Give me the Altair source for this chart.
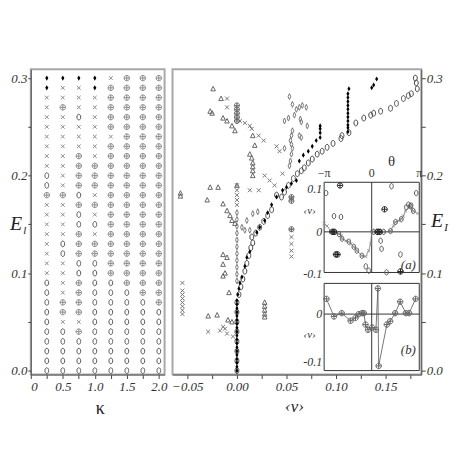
import math
import altair as alt
import pandas as pd

PI = math.pi

# ---------------- left panel: symbol grid ----------------
kappa = [0.25, 0.5, 0.75, 1.0, 1.25, 1.5, 1.75, 2.0]
grid_E = [0.30, 0.29, 0.28, 0.27, 0.26, 0.25, 0.24, 0.23, 0.22, 0.21, 0.20,
          0.19, 0.18, 0.17, 0.16, 0.15, 0.14, 0.13, 0.12, 0.11, 0.10,
          0.09, 0.08, 0.07, 0.06, 0.05, 0.04, 0.03, 0.02, 0.01, 0.00]
grid_rows = ["ddddx+++", "dxxd++++", "xxxx++++", "x+xx++++", "xxox++++",
             "xxxx++++", "xxxxx+++", "xxxx++++", "xx+x++++", "xx++++++",
             "ox++++++", "ox++++++", "++ox++++", "xx++++++", "xxox++++",
             "xxoo++++", "xx+x++++", "xo++++++", "xo++++++", "xxoo++++",
             "xxoo++++", "ox+oo+++", "ox+ooo++", "o++oooo+", "o++ooooo",
             "oxxooooo", "oo+ooooo", "oooooooo", "oooooooo", "oooooooo",
             "oooooooo"]

kappa_ticks = [0, 0.25, 0.5, 0.75, 1.0, 1.25, 1.5, 1.75, 2.0]
E_ticks = [0.0, 0.05, 0.1, 0.15, 0.2, 0.25, 0.3]
nu_ticks = [-0.05, -0.025, 0.0, 0.025, 0.05, 0.075, 0.1, 0.125, 0.15, 0.175]

# ---------------- main panel series (nu, E) ----------------
circ_nu = [0.0, 0.0, 0.0, 0.0, 0.0, 0.0, 0.0, 0.0, 0.002, 0.004, 0.006, 0.008,
           0.010, 0.012, 0.014, 0.016, 0.015, 0.019, 0.023, 0.027, 0.031, 0.035,
           0.040, 0.045, 0.048, 0.052, 0.057, 0.061, 0.065, 0.068, 0.072, 0.076,
           0.081, 0.086, 0.091, 0.097, 0.105, 0.106, 0.113, 0.120, 0.128, 0.135,
           0.138, 0.145, 0.155, 0.161, 0.168, 0.173, 0.176, 0.180, 0.181, 0.182]
circ_E = [0.0, 0.01, 0.02, 0.03, 0.04, 0.05, 0.06, 0.07, 0.078, 0.086, 0.094, 0.102,
          0.110, 0.118, 0.126, 0.131, 0.137, 0.141, 0.147, 0.153, 0.159, 0.165,
          0.180, 0.178, 0.183, 0.190, 0.197, 0.202, 0.205, 0.208, 0.213, 0.217,
          0.222, 0.225, 0.229, 0.233, 0.238, 0.241, 0.244, 0.254, 0.259, 0.262,
          0.264, 0.266, 0.269, 0.274, 0.279, 0.282, 0.284, 0.300, 0.295, 0.289]

fdia_nu = [0.0, 0.0, 0.0, 0.0, 0.0, 0.0, 0.0, 0.0, 0.0, 0.0, 0.0, 0.0, 0.0, 0.0,
           0.0, 0.0, 0.0, 0.0, 0.0, 0.001, 0.002, 0.003, 0.005, 0.008, 0.010,
           0.013, 0.020, 0.023, 0.028, 0.031, 0.035, 0.040, 0.046, 0.050, 0.055,
           0.060, 0.063, 0.067, 0.072, 0.076, 0.080, 0.084, 0.084, 0.084, 0.084,
           0.112, 0.112, 0.112, 0.112, 0.112, 0.112, 0.112, 0.112, 0.112, 0.112,
           0.112, 0.113, 0.136, 0.138, 0.141]
fdia_E = [0.0, 0.004, 0.008, 0.012, 0.016, 0.020, 0.024, 0.028, 0.032, 0.036,
          0.040, 0.044, 0.048, 0.052, 0.056, 0.060, 0.064, 0.068, 0.072, 0.078,
          0.084, 0.090, 0.096, 0.107, 0.116, 0.122, 0.142, 0.147, 0.154, 0.162,
          0.170, 0.178, 0.185, 0.188, 0.192, 0.195, 0.215, 0.221, 0.225, 0.230,
          0.236, 0.239, 0.244, 0.248, 0.251, 0.245, 0.249, 0.252, 0.256, 0.260,
          0.264, 0.268, 0.272, 0.276, 0.280, 0.284, 0.289, 0.290, 0.293, 0.299]

odia_nu = [0.053, 0.056, 0.060, 0.063, 0.066, 0.070, 0.058, 0.052, 0.048, 0.065,
           0.056, 0.055, 0.054, 0.055, 0.056, 0.048, 0.055, 0.054, 0.053, 0.064,
           0.071, 0.063, 0.065, 0.010, 0.016, 0.021, 0.005, 0.008, 0.013,
           0.0, 0.0, 0.0, 0.0, 0.0, 0.0, 0.0, 0.0, 0.0, 0.0, 0.0]
odia_E = [0.281, 0.273, 0.268, 0.270, 0.272, 0.270, 0.262, 0.259, 0.256, 0.255,
          0.246, 0.241, 0.236, 0.232, 0.228, 0.228, 0.222, 0.215, 0.210, 0.258,
          0.251, 0.241, 0.239, 0.154, 0.161, 0.163, 0.147, 0.144, 0.144,
          0.092, 0.099, 0.106, 0.113, 0.120, 0.127, 0.134, 0.141, 0.148, 0.155, 0.162]

tri_nu = [-0.024, -0.016, -0.027, -0.025, -0.014, -0.010, -0.005, -0.002, 0.016,
          0.018, 0.013, 0.015, 0.016, 0.016, 0.016, 0.016, -0.057, -0.057, -0.027,
          -0.019, -0.030, 0.0, -0.014, -0.010, -0.007, -0.005, -0.002, -0.014,
          -0.010, -0.014, -0.014, -0.012, -0.008, -0.029, -0.020, -0.005, -0.009,
          0.028, 0.028, 0.028, 0.028, 0.028]
tri_E = [0.289, 0.279, 0.266, 0.264, 0.259, 0.256, 0.251, 0.246, 0.241, 0.231,
         0.222, 0.218, 0.213, 0.209, 0.205, 0.200, 0.182, 0.179, 0.188, 0.188,
         0.175, 0.190, 0.171, 0.164, 0.159, 0.154, 0.151, 0.119, 0.116, 0.109,
         0.097, 0.100, 0.080, 0.056, 0.057, 0.050, 0.052, 0.070, 0.066, 0.062,
         0.058, 0.055]

cross_nu = [-0.010, -0.010, 0.003, 0.008, 0.013, 0.015, 0.022, 0.027, 0.040,
            0.043, 0.028, 0.046, 0.033, 0.038, 0.013, 0.022, 0.0, 0.0, 0.0, 0.0,
            0.0, 0.055, 0.055, 0.055, 0.055, 0.055, 0.055, -0.055, -0.055,
            -0.055, -0.055, -0.055, -0.055, -0.055, -0.055, -0.029, -0.017,
            -0.014, -0.012, -0.010, -0.004]
cross_E = [0.279, 0.270, 0.256, 0.254, 0.251, 0.248, 0.241, 0.236, 0.230, 0.225,
           0.200, 0.202, 0.195, 0.190, 0.185, 0.185, 0.190, 0.185, 0.180, 0.175,
           0.170, 0.177, 0.144, 0.137, 0.130, 0.123, 0.117, 0.090, 0.082, 0.078,
           0.074, 0.070, 0.066, 0.062, 0.058, 0.040, 0.041, 0.045, 0.043, 0.038,
           0.035]

oplus_nu = [0.0, 0.0, 0.0, 0.0, 0.0, 0.055, 0.055, 0.055]
oplus_E = [0.272, 0.268, 0.264, 0.260, 0.256, 0.178, 0.174, 0.145]

# ---------------- inset (a): theta vs <v> ----------------
ia_line_th = [-3.14, -2.95, -2.68, -2.42, -2.16, -2.03, -1.96, -1.70, -1.51, -1.37,
              -1.18, -0.98, -0.65, -0.39, -0.20, -0.07, 0.0, 0.33, 0.79, 1.24,
              1.44, 1.57, 1.77, 1.96, 2.09, 2.23, 2.55, 2.75, 3.05]
ia_line_nu = [0.019, 0.014, 0.0, 0.0, -0.005, -0.009, -0.016, -0.021, -0.023, -0.028,
              -0.035, -0.044, -0.056, -0.058, -0.044, -0.028, 0.0, 0.0, 0.0, 0.002,
              0.014, 0.023, 0.026, 0.030, 0.037, 0.049, 0.060, 0.049, 0.043]
ia_circ_th = [-3.01, 2.94, 1.31, -2.49, -2.03, 0.59, 0.65, 1.90, -0.39, -0.20, 0.98,
              2.29, 2.42, 2.60, -2.42, -2.16, -1.96, -1.51, -1.18, -0.98, -0.65, 1.24,
              1.57, 1.96, 2.55, 2.75, 0.33, 0.79, 0.13, 0.59]
ia_circ_nu = [0.091, 0.091, 0.107, 0.037, 0.035, -0.021, -0.040, -0.053, -0.081,
              -0.091, -0.095, 0.058, 0.064, 0.062, 0.0, -0.005, -0.016, -0.023,
              -0.035, -0.044, -0.056, 0.002, 0.023, 0.030, 0.060, 0.049, 0.0, 0.0,
              0.0, 0.0]
ia_bold_th = [-2.09, 0.85, -2.36, -2.26, 1.90, -2.60, -2.50, 0.40, 0.50]
ia_bold_nu = [0.109, 0.053, -0.053, -0.053, -0.093, 0.0, 0.0, 0.0, 0.0]

# ---------------- inset (b) ----------------
ib_th = [-2.99, -2.49, -1.98, -1.39, -1.07, -0.85, -0.63, -0.52, -0.41, -0.24, 0.02,
         0.28, 0.41, 0.46, 1.00, 1.22, 1.55, 1.88, 2.25, 2.47, 2.90]
ib_nu = [0.032, -0.005, 0.002, -0.014, -0.008, 0.0, 0.002, 0.002, -0.022, -0.033,
         -0.028, -0.033, 0.054, -0.109, -0.022, -0.015, 0.002, 0.026, 0.002, 0.002,
         0.032]

th_dom = [-PI, PI]
ia_dom = [-0.0953, 0.1163]
ib_dom = [-0.1188, 0.0646]

# ---------------- styles ----------------
SERIF = "Liberation Serif"
CIRC = "M-0.65,0A0.65,1 0 1,0 0.65,0A0.65,1 0 1,0 -0.65,0Z"
CROSS = "M-1,-1L1,1M-1,1L1,-1"
OPLUS = "M-1,0A1,1 0 1,0 1,0A1,1 0 1,0 -1,0ZM-1,0L1,0M0,-1L0,1"
DIAM = "M0,-1L0.6,0L0,1L-0.6,0Z"
ODIAM = "M0,-1L0.45,0L0,1L-0.45,0Z"
TRI = "M0,-1L0.9,0.8L-0.9,0.8Z"

axis_style = dict(labelFont=SERIF, labelFontStyle="italic", labelFontSize=13,
                  labelColor="#333", tickColor="#444", domainColor="#555",
                  grid=False, title=None)

W_L, W_R, H = 135, 251, 308
E_dom = [-0.004, 0.309]

# ---------------- left panel ----------------
recs = []
for e, row in zip(grid_E, grid_rows):
    for k, s in zip(kappa, row):
        recs.append({"k": k, "E": e, "s": s})
grid_df = pd.DataFrame(recs)

kx = alt.Scale(domain=[0, 2.09], nice=False, zero=False)
ky = alt.Scale(domain=E_dom, nice=False, zero=False)
k_axis = alt.Axis(values=kappa_ticks, tickSize=4, labelExpr="datum.value == 0 ? '0' : (round(datum.value*100) % 50 == 0 ? format(datum.value, '.1f') : '')", **axis_style)
e_axis_l = alt.Axis(values=E_ticks, tickSize=3, labelPadding=1, labelExpr="round(datum.value*100) % 10 == 0 ? format(datum.value, '.1f') : ''", **axis_style)

sym_style = {"o": (CIRC, "#555", 34, False), "x": (CROSS, "#8a8a8a", 14, False),
             "+": (OPLUS, "#8a8a8a", 30, False), "d": (DIAM, "black", 28, True)}
left_layers = []
for i, (s, (shp, col, sz, fl)) in enumerate(sym_style.items()):
    left_layers.append(
        alt.Chart(grid_df).transform_filter(alt.datum.s == s)
        .mark_point(shape=shp, color=col, size=sz, filled=fl, strokeWidth=1, opacity=1)
        .encode(x=alt.X("k:Q", scale=kx, axis=k_axis),
                y=alt.Y("E:Q", scale=ky, axis=e_axis_l))
    )

def label(txt, x, y, size, style="italic", weight="normal", color="#222"):
    return alt.Chart(pd.DataFrame({"t": [txt]})).mark_text(
        font=SERIF, fontSize=size, fontStyle=style, fontWeight=weight, color=color,
        baseline="middle", align="center").encode(
        text="t:N", x=alt.value(x), y=alt.value(y))

left_layers += [label("E", -15, 156, 20), label("l", -6, 163, 11),
                label("κ", 70, 343, 18, style="normal")]
left = alt.layer(*left_layers).properties(width=W_L, height=H)

# ---------------- right panel ----------------
nx = alt.Scale(domain=[-0.065, 0.186], nice=False, zero=False)
ny = alt.Scale(domain=E_dom, nice=False, zero=False)
nu_axis = alt.Axis(values=nu_ticks, tickSize=4, labelExpr="round(datum.value*1000) % 50 == 0 ? format(datum.value, '.2f') : ''", **axis_style)
e_axis_r = alt.Axis(values=E_ticks, orient="right", tickSize=4, labelPadding=1, labelExpr="round(datum.value*100) % 10 == 0 ? format(datum.value, '.1f') : ''", **axis_style)

series = [
    (circ_nu, circ_E, CIRC, "#444", 36, False),
    (odia_nu, odia_E, ODIAM, "#777", 36, False),
    (tri_nu, tri_E, TRI, "#666", 26, False),
    (cross_nu, cross_E, CROSS, "#777", 16, False),
    (oplus_nu, oplus_E, OPLUS, "#666", 26, False),
    (fdia_nu, fdia_E, DIAM, "black", 26, True),
]
right_layers = []
for i, (xs, ys, shp, col, sz, fl) in enumerate(series):
    df = pd.DataFrame({"nu": xs, "E": ys})
    right_layers.append(
        alt.Chart(df).mark_point(shape=shp, color=col, size=sz, filled=fl, strokeWidth=1, opacity=1)
        .encode(x=alt.X("nu:Q", scale=nx, axis=nu_axis if i == 0 else None),
                y=alt.Y("E:Q", scale=ny, axis=e_axis_r if i == 0 else None))
    )

# insets: scales with custom pixel ranges inside the right panel
IX = [153, 249]
def inset(dom, yr, line_th, line_nu, pts_list, line_color, tick_labels, lab, lab_th, lab_nu, v_nu):
    xs = alt.Scale(domain=th_dom, range=IX, nice=False, zero=False)
    ys = alt.Scale(domain=dom, range=yr, nice=False, zero=False)
    X = lambda f: alt.X(f, scale=xs, axis=None)
    Y = lambda f: alt.Y(f, scale=ys, axis=None)
    frame = alt.Chart(pd.DataFrame({"a": [th_dom[0]], "b": [th_dom[1]], "c": [dom[0]], "d": [dom[1]]})).mark_rect(
        fill="white", stroke="#333", strokeWidth=1).encode(x=X("a:Q"), x2="b:Q", y=Y("c:Q"), y2="d:Q")
    vr = alt.Chart(pd.DataFrame({"a": [0.0], "c": [dom[0]], "d": [dom[1]]})).mark_rule(
        color="#333", strokeWidth=1).encode(x=X("a:Q"), y=Y("c:Q"), y2="d:Q")
    hr = alt.Chart(pd.DataFrame({"a": [th_dom[0]], "b": [th_dom[1]], "c": [0.0]})).mark_rule(
        color="#333", strokeWidth=1).encode(x=X("a:Q"), x2="b:Q", y=Y("c:Q"))
    ldf = pd.DataFrame({"th": line_th, "nu": line_nu, "i": list(range(len(line_th)))})
    ln = alt.Chart(ldf).mark_line(color=line_color, strokeWidth=0.8).encode(
        x=X("th:Q"), y=Y("nu:Q"), order="i:Q")
    layers = [frame, vr, hr, ln]
    for (pth, pnu, shp, col, sz, sw) in pts_list:
        layers.append(alt.Chart(pd.DataFrame({"th": pth, "nu": pnu})).mark_point(
            shape=shp, color=col, size=sz, strokeWidth=sw, filled=False, opacity=1).encode(
            x=X("th:Q"), y=Y("nu:Q")))
    tl = pd.DataFrame({"t": [t for t, v in tick_labels], "v": [v for t, v in tick_labels],
                       "th": [th_dom[0]] * len(tick_labels)})
    layers.append(alt.Chart(tl).mark_text(font=SERIF, fontStyle="italic", fontSize=12, color="#333",
                                          align="right", baseline="middle", dx=-2).encode(
        x=X("th:Q"), y=Y("v:Q"), text="t:N"))
    layers.append(alt.Chart(pd.DataFrame({"t": [lab], "th": [lab_th], "nu": [lab_nu]})).mark_text(
        font=SERIF, fontStyle="italic", fontSize=13, color="#333").encode(
        x=X("th:Q"), y=Y("nu:Q"), text="t:N"))
    layers.append(alt.Chart(pd.DataFrame({"t": ["‹ν›"], "th": [-4.1], "nu": [v_nu]})).mark_text(
        font=SERIF, fontStyle="italic", fontSize=11, color="#333").encode(
        x=X("th:Q"), y=Y("nu:Q"), text="t:N"))
    return layers, xs, ys

ia_layers, ia_xs, ia_ys = inset(
    ia_dom, [205, 114], ia_line_th, ia_line_nu,
    [(ia_line_th, ia_line_nu, CROSS, "#888", 10, 0.8),
     (ia_circ_th, ia_circ_nu, CIRC, "#555", 30, 1.0),
     (ia_bold_th, ia_bold_nu, OPLUS, "#222", 30, 1.0)],
    "#777", [("0.1", 0.1), ("0", 0.0), ("-0.1", -0.1)], "(a)", 2.42, -0.079, 0.05)
ib_layers, ib_xs, ib_ys = inset(
    ib_dom, [304, 216], ib_th, ib_nu,
    [(ib_th, ib_nu, OPLUS, "#666", 30, 1.0)],
    "#555", [("0", 0.0), ("-0.1", -0.1)], "(b)", 2.42, -0.075, -0.045)

# top theta labels of inset (a)
th_lab = pd.DataFrame({"t": ["−π", "0", "π"], "th": [-PI, 0.0, PI], "nu": [ia_dom[1]] * 3})
ia_layers.append(alt.Chart(th_lab).mark_text(font=SERIF, fontSize=12, color="#333", dy=-9).encode(
    x=alt.X("th:Q", scale=ia_xs, axis=None), y=alt.Y("nu:Q", scale=ia_ys, axis=None), text="t:N"))
ia_layers.append(alt.Chart(pd.DataFrame({"t": ["θ"], "th": [1.31], "nu": [ia_dom[1]]})).mark_text(
    font=SERIF, fontSize=15, color="#333", dy=-21).encode(
    x=alt.X("th:Q", scale=ia_xs, axis=None), y=alt.Y("nu:Q", scale=ia_ys, axis=None), text="t:N"))

right_layers += ia_layers + ib_layers
right_layers += [label("‹ν›", 123, 341, 17), label("E", 267, 153, 20), label("I", 276, 160, 11)]

right = alt.layer(*right_layers).resolve_scale(x="independent", y="independent").properties(width=W_R, height=H)

chart = alt.hconcat(left, right, spacing=2).properties(
    padding={"left": 0, "top": 59, "right": 0, "bottom": 0}
).configure_view(stroke="#a8a8a8", strokeWidth=2)

chart.save("out.html", embed_options={"renderer": "svg", "actions": False})
